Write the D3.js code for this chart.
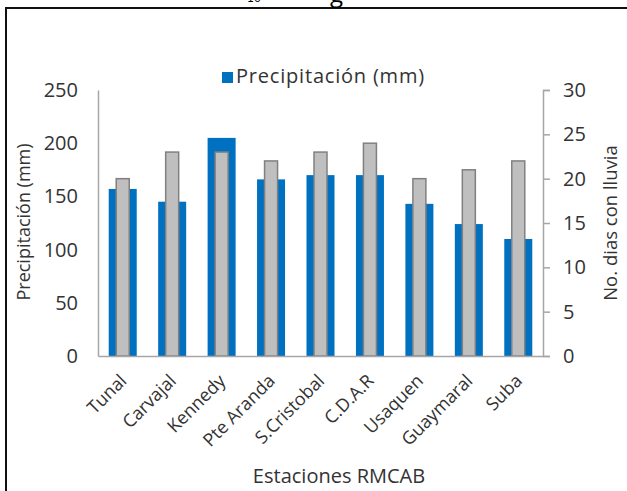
<!DOCTYPE html>
<html>
<head>
<meta charset="utf-8">
<script src="https://cdn.jsdelivr.net/npm/d3@7/dist/d3.min.js"></script>
<style>
  html, body { margin: 0; padding: 0; background: #fff; }
  svg { display: block; }
  text { font-family: "Open Sans", "Noto Sans", sans-serif; fill: #333; }
</style>
</head>
<body>
<svg id="chart" width="627" height="491"></svg>
<script>
// Estaciones de la red y sus valores
const stations = ["Tunal", "Carvajal", "Kennedy", "Pte Aranda", "S.Cristobal", "C.D.A.R", "Usaquen", "Guaymaral", "Suba"];
const precipitation = [157, 145, 205, 166, 170, 170, 143, 124, 110];   // mm
const rainDays = [20, 23, 23, 22, 23, 24, 20, 21, 22];                  // días
const precipTicks = [0, 50, 100, 150, 200, 250];
const dayTicks = [0, 5, 10, 15, 20, 25, 30];

const svg = d3.select("#chart");
const W = 627, H = 491;
const plot = { left: 98, right: 543, top: 90, bottom: 356 };

// Marco del documento (solo arriba e izquierda)
svg.append("line").attr("x1", 5).attr("x2", W).attr("y1", 8).attr("y2", 8)
  .attr("stroke", "#111").attr("stroke-width", 2);
svg.append("line").attr("x1", 6).attr("x2", 6).attr("y1", 7).attr("y2", H)
  .attr("stroke", "#111").attr("stroke-width", 2);

// Restos del texto de la línea anterior
svg.append("text").attr("x", 247).attr("y", 2).style("font-size", "11px")
  .style("font-family", "DejaVu Sans").style("fill", "#000").text("10");
svg.append("text").attr("x", 330).attr("y", 2).style("font-size", "24px")
  .style("fill", "#000").text("g");

const x = d3.scaleBand().domain(stations).range([plot.left, plot.right]);
const yL = d3.scaleLinear().domain([0, 250]).range([plot.bottom, plot.top]);
const yR = d3.scaleLinear().domain([0, 30]).range([plot.bottom, plot.top]);

const blueW = 28, grayW = 13;

// Barras de precipitación
svg.append("g").selectAll("rect").data(stations).join("rect")
  .attr("x", d => x(d) + x.bandwidth() / 2 - blueW / 2)
  .attr("width", blueW)
  .attr("y", (d, i) => yL(precipitation[i]))
  .attr("height", (d, i) => plot.bottom - yL(precipitation[i]))
  .attr("fill", "#0070C0");

// Barras de días con lluvia (eje secundario)
svg.append("g").selectAll("rect").data(stations).join("rect")
  .attr("x", d => x(d) + x.bandwidth() / 2 - grayW / 2)
  .attr("width", grayW)
  .attr("y", (d, i) => yR(rainDays[i]))
  .attr("height", (d, i) => plot.bottom - yR(rainDays[i]))
  .attr("fill", "#BFBFBF")
  .attr("stroke", "#808080")
  .attr("stroke-width", 1.5);

// Eje izquierdo
const axL = svg.append("g").attr("transform", `translate(${plot.left},0)`)
  .call(d3.axisLeft(yL).tickValues(precipTicks).tickSize(0).tickPadding(20));
axL.select(".domain").attr("stroke", "#A6A6A6").attr("stroke-width", 1.5);
axL.selectAll("text").style("font-size", "20px").style("fill", "#333");

// Eje derecho
const axR = svg.append("g").attr("transform", `translate(${plot.right},0)`)
  .call(d3.axisRight(yR).tickValues(dayTicks).tickSize(7).tickSizeOuter(7).tickPadding(13));
axR.select(".domain").attr("stroke", "#A6A6A6").attr("stroke-width", 1.5);
axR.selectAll(".tick line").attr("stroke", "#A6A6A6").attr("stroke-width", 1.5);
axR.selectAll("text").style("font-size", "20px").style("fill", "#333");

// Eje de categorías
const axB = svg.append("g").attr("transform", `translate(0,${plot.bottom})`)
  .call(d3.axisBottom(x).tickSize(0).tickSizeOuter(0).tickPadding(0));
axB.select(".domain").attr("stroke", "#A6A6A6").attr("stroke-width", 1.5);
axB.selectAll("text")
  .style("font-size", "18px").style("fill", "#333")
  .attr("text-anchor", "end")
  .attr("dy", null).attr("y", 0)
  .attr("transform", "translate(5,26) rotate(-45)");

// Títulos de ejes
svg.append("text").attr("transform", "translate(30,222) rotate(-90)")
  .attr("text-anchor", "middle").style("font-size", "18px").text("Precipitación (mm)");
svg.append("text").attr("transform", "translate(617,223) rotate(-90)")
  .attr("text-anchor", "middle").style("font-size", "18.5px").text("No. dias con lluvia");
svg.append("text").attr("x", 339).attr("y", 483)
  .attr("text-anchor", "middle").style("font-size", "20px").text("Estaciones RMCAB");

// Leyenda
svg.append("rect").attr("x", 222).attr("y", 72).attr("width", 11).attr("height", 11).attr("fill", "#0070C0");
svg.append("text").attr("x", 236).attr("y", 83).style("font-size", "20px")
  .style("letter-spacing", "0.8px").text("Precipitación (mm)");
</script>
</body>
</html>
